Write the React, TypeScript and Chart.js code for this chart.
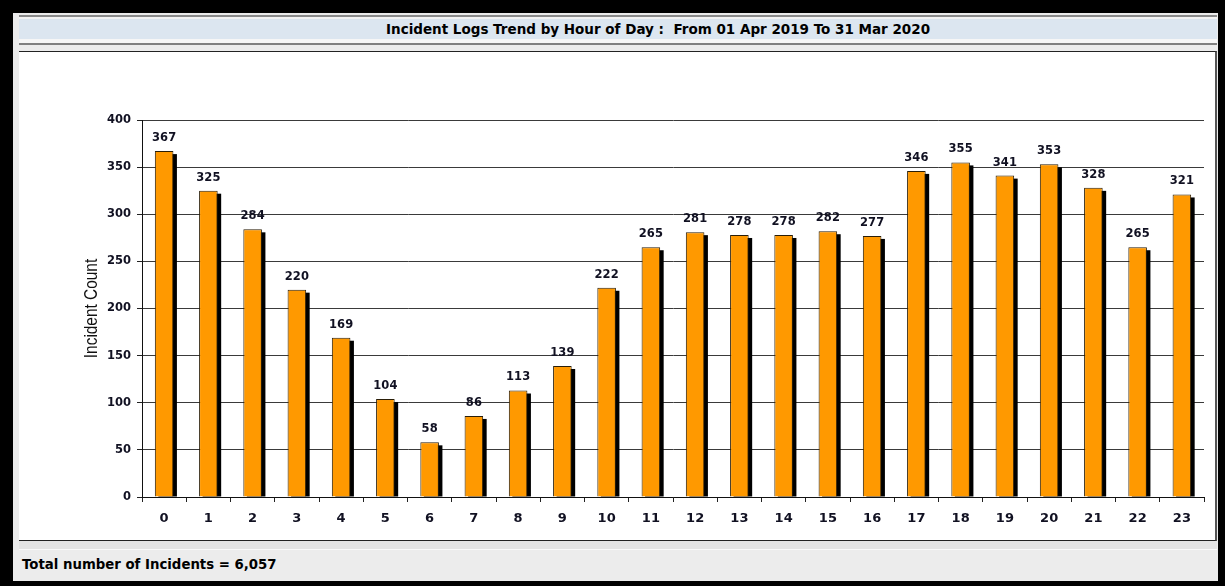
import React, { useEffect, useRef } from "react";
import { Chart, registerables } from "chart.js";

Chart.register(...registerables);

const hours: string[] = [
  "0", "1", "2", "3", "4", "5", "6", "7", "8", "9", "10", "11",
  "12", "13", "14", "15", "16", "17", "18", "19", "20", "21", "22", "23",
];
const incidentCounts: number[] = [
  367, 325, 284, 220, 169, 104, 58, 86, 113, 139, 222, 265,
  281, 278, 278, 282, 277, 346, 355, 341, 353, 328, 265, 321,
];
const yTicks: number[] = [0, 50, 100, 150, 200, 250, 300, 350, 400];
const chartTitle = "Incident Logs Trend by Hour of Day :  From 01 Apr 2019 To 31 Mar 2020";
const yAxisTitle = "Incident Count";
const footerText = "Total number of Incidents = 6,057";

const FONT = "'Liberation Sans', Arial, sans-serif";
const WIDE = "'DejaVu Sans', Verdana, sans-serif";

const shadowPlugin = {
  id: "barShadow",
  beforeDatasetsDraw(chart: any) {
    const ctx = chart.ctx;
    const meta = chart.getDatasetMeta(0);
    ctx.save();
    ctx.fillStyle = "#000000";
    meta.data.forEach((el: any) => {
      const p = el.getProps(["x", "y", "base", "width"], true);
      const h = p.base - p.y - 3;
      if (h > 0) ctx.fillRect(p.x - p.width / 2 + 3.5, p.y + 3, p.width, h);
    });
    ctx.restore();
  },
};

const labelPlugin = {
  id: "valueLabels",
  afterDatasetsDraw(chart: any) {
    const ctx = chart.ctx;
    const meta = chart.getDatasetMeta(0);
    const data = chart.data.datasets[0].data as number[];
    ctx.save();
    ctx.font = `bold 11.5px ${WIDE}`;
    ctx.fillStyle = "#111122";
    ctx.textAlign = "center";
    ctx.textBaseline = "alphabetic";
    meta.data.forEach((el: any, i: number) => {
      const p = el.getProps(["x", "y"], true);
      ctx.fillText(String(data[i]), p.x, p.y - 10);
    });
    // y-axis title (condensed look)
    const ca = chart.chartArea;
    ctx.translate(73, (ca.top + ca.bottom) / 2);
    ctx.rotate(-Math.PI / 2);
    ctx.scale(0.88, 1);
    ctx.font = `17.5px ${FONT}`;
    ctx.fillStyle = "#111111";
    ctx.textAlign = "center";
    ctx.textBaseline = "middle";
    ctx.fillText(yAxisTitle, 0, 0);
    ctx.restore();
  },
};

function ChartCanvas() {
  const ref = useRef<HTMLCanvasElement | null>(null);
  useEffect(() => {
    if (!ref.current) return;
    const chart = new Chart(ref.current, {
      type: "bar",
      data: {
        labels: hours,
        datasets: [
          {
            data: incidentCounts,
            backgroundColor: "#FF9900",
            borderColor: "#2a1e08",
            borderWidth: 1,
            barPercentage: 0.42,
            categoryPercentage: 1,
          },
        ],
      },
      options: {
        animation: false,
        responsive: false,
        maintainAspectRatio: false,
        layout: { padding: { left: 65, top: 67, right: 11, bottom: 0 } },
        plugins: {
          legend: { display: false },
          tooltip: { enabled: false },
          title: { display: false },
        },
        scales: {
          x: {
            grid: {
              display: true,
              drawOnChartArea: false,
              drawTicks: true,
              tickLength: 5,
              tickColor: "#222222",
              offset: true,
            },
            border: { display: true, color: "#111111", width: 1 },
            ticks: {
              font: { family: WIDE, size: 13, weight: "bold" },
              color: "#111122",
              padding: 9,
              maxRotation: 0,
            },
            afterFit: (s: any) => {
              s.height = 42;
            },
          },
          y: {
            min: 0,
            max: 400,
            afterBuildTicks: (s: any) => {
              s.ticks = yTicks.map((v) => ({ value: v }));
            },
            grid: {
              color: "#3a3a3a",
              lineWidth: 1,
              drawTicks: true,
              tickLength: 5,
              tickColor: "#222222",
            },
            border: { display: true, color: "#111111", width: 1 },
            ticks: {
              font: { family: WIDE, size: 11.5, weight: "bold" },
              color: "#111122",
              padding: 6,
            },
            afterFit: (s: any) => {
              s.width = 58;
            },
          },
        },
      },
      plugins: [shadowPlugin, labelPlugin],
    });
    return () => chart.destroy();
  }, []);
  return <canvas ref={ref} width={1196} height={486} style={{ display: "block", width: 1196, height: 486 }} />;
}

export default function App() {
  const abs = (l: number, t: number, w: number, h: number, extra: any = {}) => ({
    position: "absolute" as const,
    left: l,
    top: t,
    width: w,
    height: h,
    ...extra,
  });
  return (
    <div style={{ position: "fixed", left: 0, top: 0, width: 1225, height: 586, background: "#000", overflow: "hidden" }}>
      <div style={abs(13, 13, 1205, 568, { background: "#ececec" })} />
      {/* title bar */}
      <div style={abs(19, 15, 1198, 2, { background: "#8a8a8a" })} />
      <div style={abs(19, 17, 1198, 2, { background: "#f4f4f4" })} />
      <div style={abs(19, 19, 1198, 20, { background: "#dce6f0" })} />
      <div style={abs(19, 39, 1198, 4, { background: "#f6f6f6" })} />
      <div style={abs(19, 43, 1198, 2, { background: "#808080" })} />
      <div style={abs(19, 45, 1198, 6, { background: "#ececec" })} />
      <div
        style={abs(386, 19, 620, 20, {
          font: `bold 13.5px ${WIDE}`,
          color: "#000",
          lineHeight: "20px",
          whiteSpace: "pre",
        })}
      >
        {chartTitle}
      </div>
      {/* chart area */}
      <div
        style={abs(19, 51, 1196, 488, {
          background: "#fff",
          borderTop: "1px solid #222",
          borderRight: "2px solid #555",
          borderBottom: "1px solid #222",
        })}
      >
        <div style={{ position: "absolute", left: 0, top: 1 }}>
          <ChartCanvas />
        </div>
      </div>
      {/* footer */}
      <div style={abs(19, 541, 1198, 8, { background: "#e4e4e4", borderBottom: "1px solid #fafafa" })} />
      <div
        style={abs(22, 555, 600, 20, {
          font: `bold 13.3px ${WIDE}`,
          color: "#000",
          lineHeight: "20px",
          whiteSpace: "pre",
        })}
      >
        {footerText}
      </div>
    </div>
  );
}
